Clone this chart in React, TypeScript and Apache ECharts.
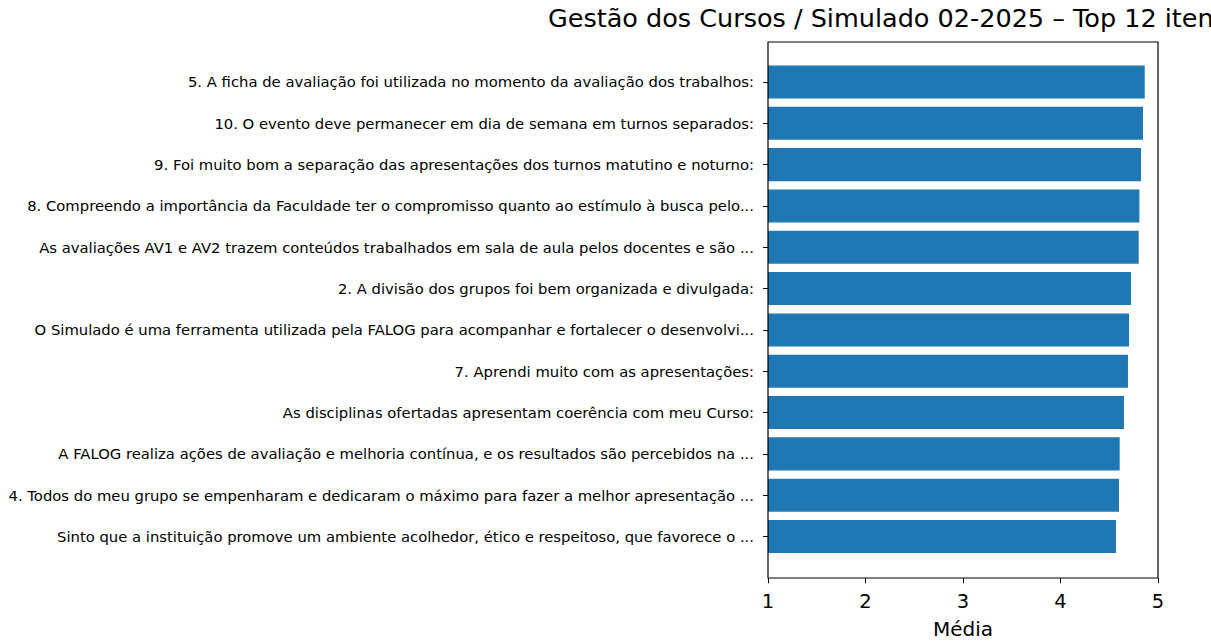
import React, { useEffect, useRef } from "react";
import * as echarts from "echarts";

const categories: string[] = [
  "5. A ficha de avaliação foi utilizada no momento da avaliação dos trabalhos:",
  "10. O evento deve permanecer em dia de semana em turnos separados:",
  "9. Foi muito bom a separação das apresentações dos turnos matutino e noturno:",
  "8. Compreendo a importância da Faculdade ter o compromisso quanto ao estímulo à busca pelo...",
  "As avaliações AV1 e AV2 trazem conteúdos trabalhados em sala de aula pelos docentes e são ...",
  "2. A divisão dos grupos foi bem organizada e divulgada:",
  "O Simulado é uma ferramenta utilizada pela FALOG para acompanhar e fortalecer o desenvolvi...",
  "7. Aprendi muito com as apresentações:",
  "As disciplinas ofertadas apresentam coerência com meu Curso:",
  "A FALOG realiza ações de avaliação e melhoria contínua, e os resultados são percebidos na ...",
  "4. Todos do meu grupo se empenharam e dedicaram o máximo para fazer a melhor apresentação ...",
  "Sinto que a instituição promove um ambiente acolhedor, ético e respeitoso, que favorece o ...",
];

const values: number[] = [4.864, 4.846, 4.826, 4.809, 4.802, 4.723, 4.703, 4.692, 4.651, 4.607, 4.6, 4.569];

const titleText = "Gestão dos Cursos / Simulado 02-2025 – Top 12 itens";
const xAxisName = "Média";

const FONT = "DejaVu Sans";

export default function App() {
  const ref = useRef<HTMLDivElement>(null);
  useEffect(() => {
    if (!ref.current) return;
    const chart = echarts.init(ref.current, undefined, { renderer: "svg" });
    chart.setOption({
      animation: false,
      backgroundColor: "#ffffff",
      title: {
        text: titleText,
        left: 548,
        top: 5,
        padding: 0,
        textStyle: { fontFamily: FONT, fontSize: 25.5, fontWeight: "normal", color: "#000" },
      },
      grid: {
        left: 768,
        right: 53,
        top: 61.3,
        bottom: 84.8,
        containLabel: false,
        outerBoundsMode: "none",
      },
      xAxis: {
        type: "value",
        min: 1,
        max: 5,
        interval: 1,
        offset: 21,
        name: xAxisName,
        nameLocation: "middle",
        nameGap: 41,
        nameTextStyle: { fontFamily: FONT, fontSize: 20, color: "#000" },
        axisLine: { show: false },
        axisTick: { show: true, length: 5, lineStyle: { color: "#000", width: 1 } },
        axisLabel: { fontFamily: FONT, fontSize: 19.5, color: "#000", margin: 13 },
        splitLine: { show: false },
      },
      yAxis: {
        type: "category",
        inverse: true,
        data: categories,
        axisLine: { show: false },
        axisTick: { show: true, alignWithLabel: true, length: 5, lineStyle: { color: "#000", width: 1 } },
        axisLabel: { fontFamily: FONT, fontSize: 14.8, color: "#000", margin: 14 },
      },
      graphic: [
        {
          type: "rect",
          shape: { x: 768, y: 42, width: 390, height: 536 },
          style: { fill: "none", stroke: "#000", lineWidth: 1.2 },
          z: 100,
          silent: true,
        },
      ],
      series: [
        {
          type: "bar",
          data: values,
          barCategoryGap: "20%",
          itemStyle: { color: "#1f77b4" },
        },
      ],
    });
    return () => chart.dispose();
  }, []);
  return <div ref={ref} style={{ width: 1211, height: 642, position: "fixed", left: 0, top: 0 }} />;
}
